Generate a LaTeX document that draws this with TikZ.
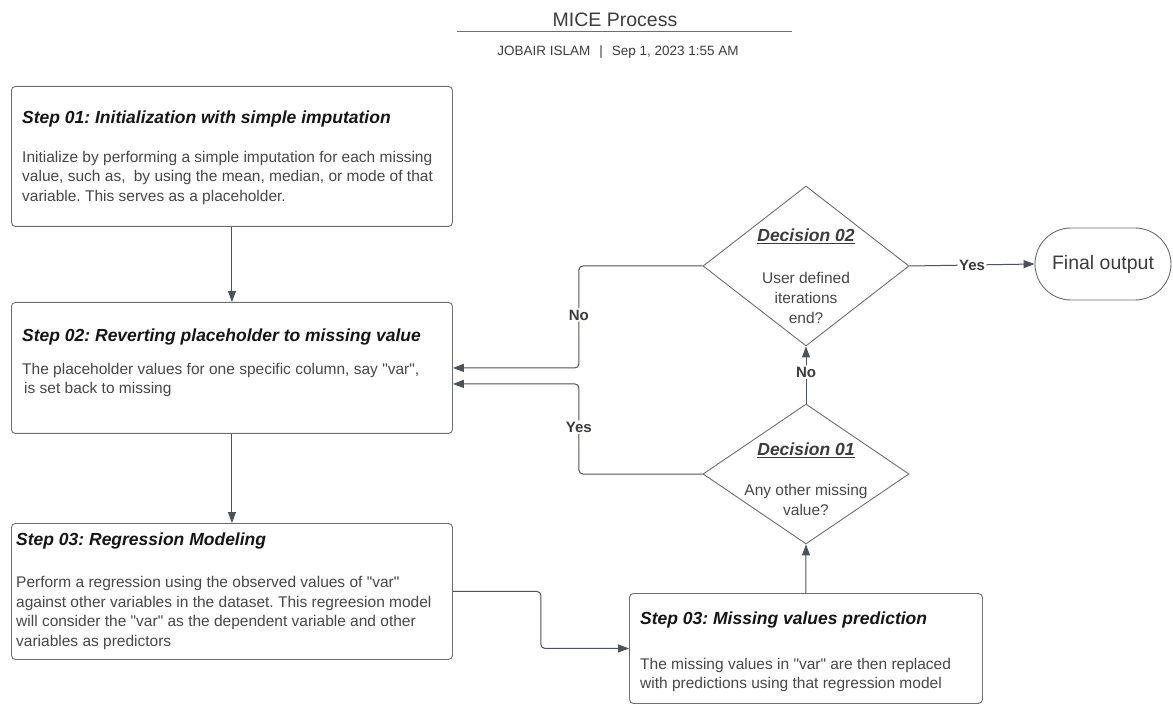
\documentclass[tikz,border=0pt]{standalone}
\usepackage{fontspec}
\setmainfont{Liberation Sans}
\usetikzlibrary{shapes.geometric,shapes.misc,arrows.meta,calc}
\definecolor{linecol}{HTML}{4D5158}
\definecolor{boxcol}{HTML}{6E6E6E}
\definecolor{titlecol}{HTML}{151515}
\definecolor{bodycol}{HTML}{474747}
\definecolor{headcol}{HTML}{3C3C3C}
\newcommand{\qq}{\textquotedbl{}}
\begin{document}
\frenchspacing
\begin{tikzpicture}[x=1pt,y=-1pt,
  stepbox/.style={draw=boxcol, line width=0.9pt, rounded corners=4pt, rectangle, inner sep=0pt, anchor=north west},
  decbox/.style={draw=boxcol, line width=0.9pt, diamond, inner sep=0pt},
  termbox/.style={draw=boxcol, line width=0.9pt, rounded rectangle, inner sep=0pt, text=headcol, font=\fontsize{19.5}{22}\selectfont},
  steptitle/.style={anchor=base west, inner sep=0pt, text=titlecol, font=\fontsize{17.5}{21}\selectfont\bfseries\itshape},
  bodytext/.style={anchor=base west, inner sep=0pt, align=left, text=bodycol, font=\fontsize{15.5}{19.5}\selectfont},
  dectitle/.style={anchor=base, inner sep=0pt, text=headcol, font=\fontsize{17.5}{21}\selectfont\bfseries\itshape},
  dectext/.style={anchor=base, inner sep=0pt, align=center, text=bodycol, font=\fontsize{15.5}{20}\selectfont},
  conn/.style={draw=linecol, line width=1pt, -{Triangle[length=11pt,width=8pt]}, rounded corners=4pt},
  lbl/.style={fill=white, inner sep=1.5pt, text=headcol, font=\fontsize{15}{18}\selectfont\bfseries}
]
\useasboundingbox (0,0) rectangle (1173,708);

% header
\node[text=headcol, font=\fontsize{19.5}{22}\selectfont, inner sep=0pt] (title) at (615,20) {MICE Process};
\draw[draw=boxcol, line width=1pt] (457,32) -- (792,32);
\node[text=headcol, font=\fontsize{13.5}{16}\selectfont, inner sep=0pt] (sub) at (618,52) {JOBAIR ISLAM\hspace{9pt}|\hspace{9pt}Sep 1, 2023 1:55 AM};

% boxes
\node[stepbox, minimum width=441pt, minimum height=140pt] (s1) at (11,86) {};
\node[stepbox, minimum width=441pt, minimum height=131pt] (s2) at (11,302) {};
\node[stepbox, minimum width=441pt, minimum height=136pt] (s3) at (11,523) {};
\node[stepbox, minimum width=353pt, minimum height=110pt] (mvp) at (629,593) {};
\node[decbox, minimum width=206pt, minimum height=160pt] (d2) at (806,266) {};
\node[decbox, minimum width=206pt, minimum height=140pt] (d1) at (806,474) {};
\node[termbox, minimum width=136pt, minimum height=72pt] (fo) at (1103,264) {Final output};

% texts (multi-line nodes: base = last line)
\node[steptitle] (t1) at (22,124) {Step 01: Initialization with simple imputation};
\node[bodytext] (b1) at (22,201.5) {Initialize by performing a simple imputation for each missing\\value, such as,\hspace{4pt} by using the mean, median, or mode of that\\variable. This serves as a placeholder.};

\node[steptitle] (t2) at (22,342) {Step 02: Reverting placeholder to missing value};
\node[bodytext, font=\fontsize{15.5}{19}\selectfont] (b2) at (22,393.5) {The placeholder values for one specific column, say \qq var\qq,\\\hspace{2pt}is set back to missing};

\node[steptitle] (t3) at (16,545) {Step 03: Regression Modeling};
\node[bodytext] (b3) at (16,646) {Perform a regression using the observed values of \qq var\qq\\against other variables in the dataset. This regreesion model\\will consider the \qq var\qq{} as the dependent variable and other\\variables as predictors};

\node[steptitle] (t4) at (640,624) {Step 03: Missing values prediction};
\node[bodytext, font=\fontsize{15.5}{19}\selectfont] (b4) at (640,688.5) {The missing values in \qq var\qq{} are then replaced\\with predictions using that regression model};

\node[dectitle] (t5) at (806,242) {\underline{Decision 02}};
\node[dectext] (b5) at (806,323.5) {User defined\\iterations\\end?};

\node[dectitle] (t6) at (806,456) {\underline{Decision 01}};
\node[dectext, font=\fontsize{15.5}{19.5}\selectfont] (b6) at (806,515) {Any other missing\\value?};

% connectors
\coordinate (yesin) at ($(s2.east)+(0,16)$);
\draw[conn] (s1.south) -- (s2.north);
\draw[conn] (s2.south) -- (s3.north);
\draw[conn] (s3.east) -- ++(88,0) |- (mvp.west);
\draw[conn] (mvp.north) -- (d1.south);
\draw[conn] (d1.north) -- node[lbl, pos=0.55] (l1) {No} (d2.south);
\draw[conn] (d2.east) -- node[lbl, pos=0.5] (l2) {Yes} (fo.west);
\draw[conn] (d1.west) -| node[lbl, pos=0.76] (l3) {Yes} ([xshift=126pt]yesin) -- (yesin);
\draw[conn] (d2.west) -| node[lbl, pos=0.74] (l4) {No} ([xshift=126pt]s2.east) -- (s2.east);
\end{tikzpicture}
\end{document}
